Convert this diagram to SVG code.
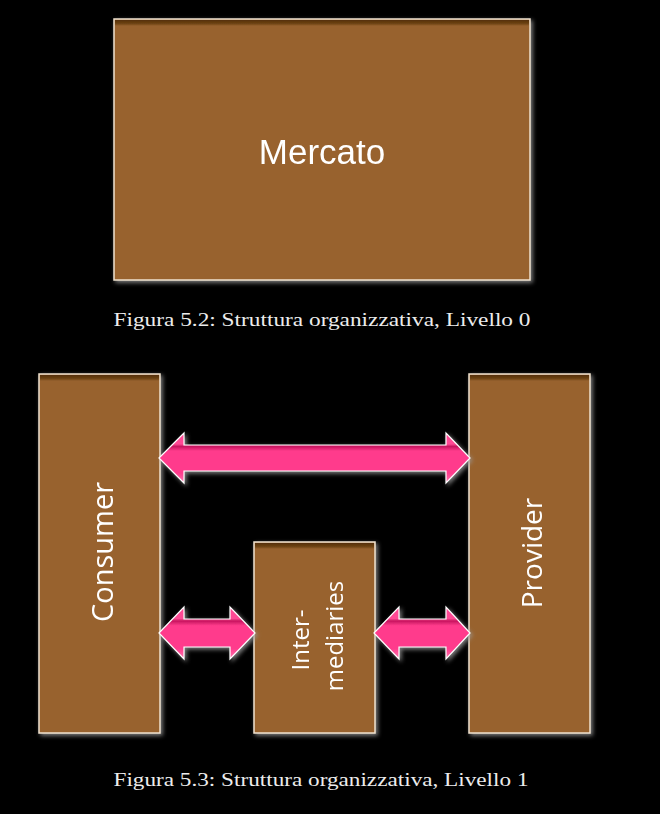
<svg xmlns="http://www.w3.org/2000/svg" width="660" height="814" viewBox="0 0 660 814">
<style>
.box{fill:#98622f;stroke:#efe2cf;stroke-width:1.5}
.bevelTop{fill:url(#topBevel)}
.lbl{fill:#ffffff;font-family:"Open Sans","Liberation Sans",sans-serif}
.cap{fill:#ececec;font-family:"Liberation Serif",serif;font-size:18px}
.arrow{fill:url(#pink);stroke:#ffffff;stroke-width:1.2;stroke-linejoin:miter}
</style>
<defs>
<linearGradient id="topBevel" x1="0" y1="0" x2="0" y2="1">
<stop offset="0" stop-color="#553005"/>
<stop offset="0.6" stop-color="#6e4414"/>
<stop offset="1" stop-color="#98622f"/>
</linearGradient>
<linearGradient id="pink" x1="0" y1="0" x2="0" y2="1">
<stop offset="0" stop-color="#ff4a95"/>
<stop offset="0.22" stop-color="#ff4a95"/>
<stop offset="0.27" stop-color="#c81560"/>
<stop offset="0.36" stop-color="#ff3b8c"/>
<stop offset="0.8" stop-color="#ff3b8c"/>
<stop offset="1" stop-color="#ff7ab2"/>
</linearGradient>
<filter id="shadow" x="-10%" y="-10%" width="125%" height="125%">
<feGaussianBlur in="SourceAlpha" stdDeviation="2"/>
<feOffset dx="2" dy="2" result="b"/>
<feFlood flood-color="#9a9a9a" flood-opacity="0.8"/>
<feComposite in2="b" operator="in" result="s"/>
<feMerge><feMergeNode in="s"/><feMergeNode in="SourceGraphic"/></feMerge>
</filter>
</defs>
<rect width="660" height="814" fill="#000000"/>

<g id="mercato" filter="url(#shadow)">
<rect class="box" x="114" y="19" width="416" height="261"/>
<rect class="bevelTop" x="115" y="20" width="414" height="6"/>
<text x="322" y="164" font-size="35" text-anchor="middle" fill="#ffffff" font-family="'Liberation Sans',Arial,sans-serif">Mercato</text>
</g>
<text class="cap" x="322" y="326" text-anchor="middle" textLength="417" lengthAdjust="spacingAndGlyphs">Figura 5.2: Struttura organizzativa, Livello 0</text>

<g id="consumer" filter="url(#shadow)">
<rect class="box" x="39" y="374" width="121" height="359"/>
<rect class="bevelTop" x="40" y="375" width="119" height="6"/>
<text class="lbl" font-size="29" text-anchor="middle" transform="translate(113 552) rotate(-90)">Consumer</text>
</g>

<g id="provider" filter="url(#shadow)">
<rect class="box" x="469" y="374" width="121" height="359"/>
<rect class="bevelTop" x="470" y="375" width="119" height="6"/>
<text class="lbl" font-size="28" text-anchor="middle" transform="translate(542 553) rotate(-90)">Provider</text>
</g>

<g id="intermediaries" filter="url(#shadow)">
<rect class="box" x="254" y="542" width="121" height="191"/>
<rect class="bevelTop" x="255" y="543" width="119" height="6"/>
<text class="lbl" font-size="24" text-anchor="middle" transform="translate(309 640) rotate(-90)">Inter-</text>
<text class="lbl" font-size="24" text-anchor="middle" transform="translate(343 636) rotate(-90)">mediaries</text>
</g>

<g id="connectors" filter="url(#shadow)">
<polygon class="arrow" points="159,458 184,433 184,445 446,445 446,433 470,458 446,483 446,471 184,471 184,483"/>
<polygon class="arrow" points="159,633 184,607 184,619 230,619 230,607 255,633 230,659 230,647 184,647 184,659"/>
<polygon class="arrow" points="374,633 399,607 399,619 446,619 446,607 470,633 446,659 446,647 399,647 399,659"/>
</g>

<text class="cap" x="321" y="786" text-anchor="middle" textLength="415" lengthAdjust="spacingAndGlyphs">Figura 5.3: Struttura organizzativa, Livello 1</text>
</svg>
